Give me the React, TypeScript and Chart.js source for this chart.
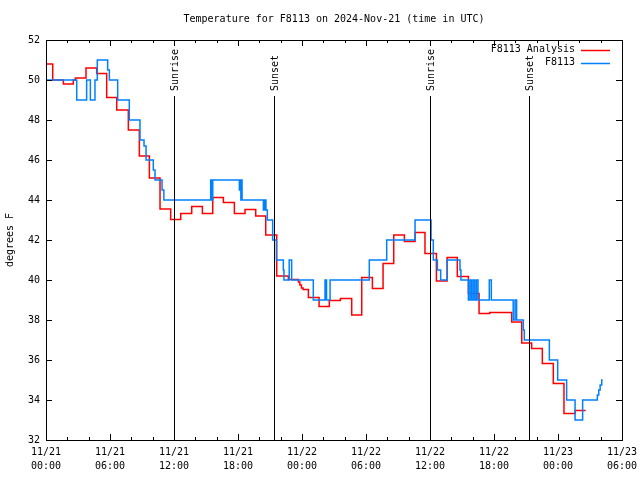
import React, { useEffect, useRef } from "react";
import { Chart, registerables } from "chart.js";

Chart.register(...registerables);

const titleText = "Temperature for F8113 on 2024-Nov-21 (time in UTC)";
const yAxisTitle = "degrees F";

// hours since 11/21 00:00 UTC
const xTickLabels: string[][] = [
  ["11/21", "00:00"],
  ["11/21", "06:00"],
  ["11/21", "12:00"],
  ["11/21", "18:00"],
  ["11/22", "00:00"],
  ["11/22", "06:00"],
  ["11/22", "12:00"],
  ["11/22", "18:00"],
  ["11/23", "00:00"],
  ["11/23", "06:00"],
];

const analysisLabel = "F8113 Analysis";
const analysisHours = [0, 0.63, 1.63, 2.56, 2.75, 3.75, 4.75, 5.69, 6.63, 7.72, 8.75, 9.69, 10.69, 11.69, 12.63, 13.66, 14.66, 15.63, 16.63, 17.66, 18.66, 19.66, 20.6, 21.63, 22.72, 23.66, 23.8, 23.95, 24.1, 24.6, 25.6, 26.56, 27.6, 28.66, 29.6, 30.6, 31.6, 32.6, 33.6, 34.6, 35.53, 36.6, 37.6, 38.56, 39.6, 40.6, 41.6, 43.66, 44.6, 45.53, 46.53, 47.56, 48.56, 49.6, 50.6];
const analysisTemps = [50.8, 50.0, 49.8, 50.0, 50.1, 50.6, 50.33, 49.13, 48.5, 47.5, 46.2, 45.1, 43.55, 43.03, 43.33, 43.67, 43.33, 44.13, 43.87, 43.33, 43.53, 43.2, 42.25, 40.2, 40.03, 39.9, 39.75, 39.6, 39.53, 39.13, 38.67, 38.97, 39.08, 38.25, 40.13, 39.58, 40.83, 42.25, 41.92, 42.38, 41.33, 39.95, 41.13, 40.17, 39.33, 38.33, 38.38, 37.9, 36.85, 36.58, 35.83, 34.83, 33.33, 33.47, 33.47];

const obsLabel = "F8113";
const obsHours = [0, 2.88, 3.81, 4.16, 4.59, 4.81, 5.78, 5.94, 6.72, 7.81, 8.81, 9.19, 9.38, 10.06, 10.22, 10.88, 11.05, 15.44, 15.48, 15.52, 15.56, 15.63, 18.13, 18.2, 18.27, 18.32, 18.38, 20.38, 20.44, 20.5, 20.56, 20.62, 20.75, 21.25, 21.6, 22.25, 22.31, 22.8, 23.03, 25.06, 26.16, 26.3, 26.63, 30.31, 31.94, 34.6, 36.1, 36.31, 36.69, 37.0, 37.62, 38.81, 38.9, 39.6, 39.75, 39.9, 40.05, 40.2, 40.35, 40.5, 41.56, 41.75, 43.8, 43.97, 44.12, 44.75, 44.84, 47.19, 47.97, 48.81, 49.6, 50.31, 51.69, 51.82, 51.95, 52.1, 52.19];
const obsTemps = [50.0, 49.0, 50.0, 49.0, 50.0, 51.0, 50.5, 50.0, 49.0, 48.0, 47.0, 46.7, 46.0, 45.5, 45.0, 44.5, 44.0, 45.0, 44.0, 45.0, 44.0, 45.0, 44.5, 45.0, 44.0, 45.0, 44.0, 43.5, 44.0, 43.5, 44.0, 43.5, 43.0, 42.0, 41.0, 40.5, 40.0, 41.0, 40.0, 39.0, 40.0, 39.0, 40.0, 41.0, 42.0, 43.0, 42.0, 41.0, 40.5, 40.0, 41.0, 40.5, 40.0, 39.0, 40.0, 39.0, 40.0, 39.0, 40.0, 39.0, 40.0, 39.0, 38.0, 39.0, 38.0, 37.5, 37.0, 36.0, 35.0, 34.0, 33.0, 34.0, 34.25, 34.5, 34.75, 35.0, 35.0];

const sunEventHours = [12.0, 21.4, 36.0, 45.3];
const sunEventLabels = ["Sunrise", "Sunset", "Sunrise", "Sunset"];

const FONT = '"DejaVu Sans Mono", "Liberation Mono", monospace';
const FONT_SIZE = 10;
const RED = "#ff0000";
const BLUE = "#0080ff";

const gnuplotDecor = {
  id: "gnuplotDecor",
  afterDatasetsDraw(chart: any) {
    const { ctx, chartArea } = chart;
    const xs = chart.scales.x;
    const ys = chart.scales.y;
    const { left, right, top, bottom } = chartArea;
    ctx.save();
    ctx.strokeStyle = "#000";
    ctx.lineWidth = 1;
    ctx.strokeRect(Math.round(left) + 0.5, Math.round(top) + 0.5, Math.round(right - left), Math.round(bottom - top));
    ctx.beginPath();
    for (let h = 0; h <= 54; h += 2) {
      const px = Math.round(xs.getPixelForValue(h)) + 0.5;
      const len = h % 6 === 0 ? 6 : 3;
      ctx.moveTo(px, bottom);
      ctx.lineTo(px, bottom - len);
      ctx.moveTo(px, top);
      ctx.lineTo(px, top + len);
    }
    for (let v = 32; v <= 52; v += 2) {
      const py = Math.round(ys.getPixelForValue(v)) + 0.5;
      ctx.moveTo(left, py);
      ctx.lineTo(left + 6, py);
      ctx.moveTo(right, py);
      ctx.lineTo(right - 6, py);
    }
    ctx.stroke();

    ctx.font = `${FONT_SIZE}px ${FONT}`;
    ctx.fillStyle = "#000";
    sunEventHours.forEach((h, i) => {
      const px = Math.round(xs.getPixelForValue(h)) + 0.5;
      ctx.beginPath();
      ctx.moveTo(px, top + 56);
      ctx.lineTo(px, bottom);
      ctx.stroke();
      ctx.save();
      ctx.translate(px + 1, top + 51);
      ctx.rotate(-Math.PI / 2);
      ctx.textAlign = "left";
      ctx.textBaseline = "middle";
      ctx.fillText(sunEventLabels[i], 0, 0);
      ctx.restore();
    });

    ctx.textAlign = "center";
    ctx.textBaseline = "middle";
    ctx.fillText(titleText, (left + right) / 2, 19);

    ctx.save();
    ctx.translate(10, (top + bottom) / 2);
    ctx.rotate(-Math.PI / 2);
    ctx.textAlign = "center";
    ctx.textBaseline = "middle";
    ctx.fillText(yAxisTitle, 0, 0);
    ctx.restore();

    const entries = [
      { label: analysisLabel, color: RED },
      { label: obsLabel, color: BLUE },
    ];
    entries.forEach((e, i) => {
      const y = 49.5 + i * 13;
      ctx.textAlign = "right";
      ctx.textBaseline = "middle";
      ctx.fillStyle = "#000";
      ctx.fillText(e.label, 575, y);
      ctx.strokeStyle = e.color;
      ctx.lineWidth = 1.5;
      ctx.beginPath();
      ctx.moveTo(581, Math.round(y) + 0.5);
      ctx.lineTo(610, Math.round(y) + 0.5);
      ctx.stroke();
    });
    ctx.restore();
  },
};

export default function App() {
  const ref = useRef<HTMLCanvasElement | null>(null);
  useEffect(() => {
    document.body.style.margin = "0";
    const canvas = ref.current;
    if (!canvas) return;
    const chart = new Chart(canvas, {
      type: "line",
      data: {
        datasets: [
          {
            label: obsLabel,
            data: obsHours.map((h, i) => ({ x: h, y: obsTemps[i] })),
            borderColor: BLUE,
            borderWidth: 1.5,
            pointRadius: 0,
            stepped: "before",
            fill: false,
            order: 0,
          },
          {
            label: analysisLabel,
            data: analysisHours.map((h, i) => ({ x: h, y: analysisTemps[i] })),
            borderColor: RED,
            borderWidth: 1.5,
            pointRadius: 0,
            stepped: "before",
            fill: false,
            order: 1,
          },
        ],
      },
      options: {
        animation: false,
        responsive: false,
        maintainAspectRatio: false,
        devicePixelRatio: 1,
        layout: { padding: { left: 0, right: 18, top: 40, bottom: 0 } },
        plugins: {
          legend: { display: false },
          title: { display: false },
          tooltip: { enabled: false },
        },
        scales: {
          x: {
            type: "linear",
            min: 0,
            max: 54,
            grid: { display: false, drawTicks: false },
            border: { display: false },
            ticks: {
              stepSize: 6,
              autoSkip: false,
              maxRotation: 0,
              color: "#000",
              padding: 5,
              font: { family: FONT, size: FONT_SIZE, lineHeight: 1.4 },
              callback: (v: any) => xTickLabels[Math.round(Number(v) / 6)] ?? "",
            },
            afterFit: (s: any) => {
              s.height = 40;
              s.paddingLeft = 0;
              s.paddingRight = 0;
            },
          },
          y: {
            min: 32,
            max: 52,
            grid: { display: false, drawTicks: false },
            border: { display: false },
            ticks: {
              stepSize: 2,
              color: "#000",
              padding: 6,
              font: { family: FONT, size: FONT_SIZE },
            },
            afterFit: (s: any) => {
              s.width = 46;
              s.paddingTop = 0;
              s.paddingBottom = 0;
            },
          },
        },
      },
      plugins: [gnuplotDecor],
    } as any);
    return () => chart.destroy();
  }, []);
  return (
    <div style={{ position: "absolute", left: 0, top: 0, width: 640, height: 480, background: "#fff" }}>
      <canvas ref={ref} width={640} height={480} />
    </div>
  );
}
